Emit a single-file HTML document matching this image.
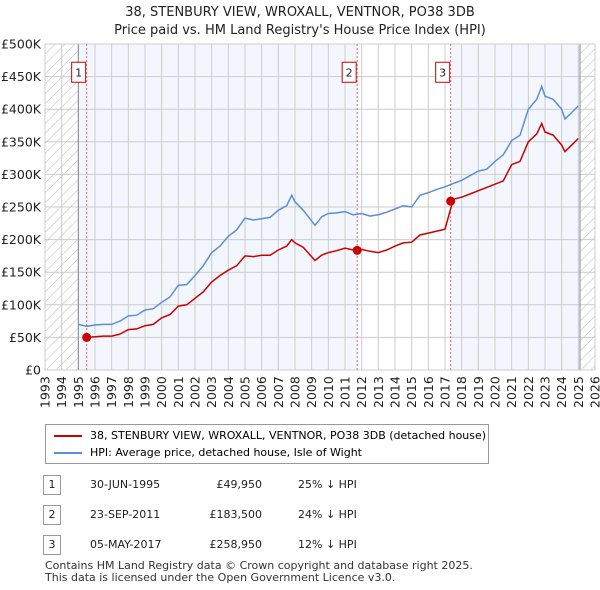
<!DOCTYPE html>
<html><head><meta charset="utf-8"><style>
body{margin:0;background:#fff;font-family:"DejaVu Sans","Liberation Sans",sans-serif;}
#wrap{position:relative;width:600px;height:590px;}
.t{position:absolute;font-size:12px;color:#222;}
svg text{font-family:"DejaVu Sans","Liberation Sans",sans-serif;}
</style></head><body>
<div id="wrap">
<svg id="chart" width="600" height="420" style="position:absolute;left:0;top:0"></svg>
<div style="position:absolute;left:45px;top:424px;width:442px;height:38px;border:1px solid #999;">
 <div style="position:absolute;left:8px;top:4px;font-size:11px;"><span style="display:inline-block;width:28px;height:2px;background:#cc0000;vertical-align:middle;margin-right:8px"></span>38, STENBURY VIEW, WROXALL, VENTNOR, PO38 3DB (detached house)</div>
 <div style="position:absolute;left:8px;top:21px;font-size:11px;"><span style="display:inline-block;width:28px;height:2px;background:#5b8fd4;vertical-align:middle;margin-right:8px"></span>HPI: Average price, detached house, Isle of Wight</div>
</div>
<div id="rows"></div>
<div class="t" style="left:45px;top:560px;font-size:11px;line-height:12px;color:#333">Contains HM Land Registry data © Crown copyright and database right 2025.<br>This data is licensed under the Open Government Licence v3.0.</div>
</div>
<script>
const years=[1995.0,1995.5,1996,1996.5,1997,1997.5,1998,1998.5,1999,1999.5,2000,2000.5,2001,2001.5,2002,2002.5,2003,2003.5,2004,2004.5,2005,2005.5,2006,2006.5,2007,2007.5,2007.8,2008,2008.5,2009.2,2009.6,2010,2010.5,2011,2011.5,2012,2012.5,2013,2013.5,2014,2014.5,2015,2015.5,2016,2016.5,2017,2017.5,2018,2018.5,2019,2019.5,2020,2020.5,2021,2021.5,2022,2022.5,2022.8,2023,2023.5,2024,2024.2,2024.6,2025.0];
const hpi=[70,67,69,70,70,75,83,84,92,94,104,112,130,131,145,160,180,190,205,215,233,230,232,234,245,252,268,258,245,222,235,240,241,243,238,240,236,238,242,247,252,250,268,272,277,281,286,291,298,305,308,320,330,352,360,400,415,435,420,415,400,385,395,405];
const price=[null,49.95,51,52,52,55,62,63,68,70,80,85,98,100,110,120,135,145,153,160,175,174,176,176,184,190,200,195,188,168,176,180,183,187,184,185,182,180,184,190,195,196,207,210,213,216,262,265,270,275,280,285,290,315,320,350,362,378,365,360,345,335,345,355];
const sales=[{n:"1",y:1995.5,v:49.95},{n:"2",y:2011.73,v:183.5},{n:"3",y:2017.34,v:258.95}];
const yTicks=[0,50,100,150,200,250,300,350,400,450,500];
const x0=45,x1=595,yT=44,yB=370;
const X=y=>x0+(y-1993)/(2026-1993)*(x1-x0);
const Y=v=>yB-v/500*(yB-yT);
const svg=document.getElementById('chart');
let h='<defs><pattern id="hatch" width="7" height="7" patternUnits="userSpaceOnUse" patternTransform="rotate(45)"><line x1="0" y1="0" x2="0" y2="7" stroke="#bbb" stroke-width="1"/></pattern></defs>';
h+=`<rect x="${x0}" y="${yT}" width="${x1-x0}" height="${yB-yT}" fill="#fff"/>`;
h+=`<rect x="${X(1995)}" y="${yT}" width="${X(2011.73)-X(1995)}" height="${yB-yT}" fill="#eef3fc" opacity="0.7"/>`;
h+=`<rect x="${X(2017.34)}" y="${yT}" width="${X(2025.1)-X(2017.34)}" height="${yB-yT}" fill="#eef3fc" opacity="0.7"/>`;
h+=`<rect x="${x0}" y="${yT}" width="${X(1995)-x0}" height="${yB-yT}" fill="url(#hatch)"/>`;
h+=`<rect x="${X(2025.1)}" y="${yT}" width="${x1-X(2025.1)}" height="${yB-yT}" fill="url(#hatch)"/>`;
for(let yr=1993;yr<=2026;yr++){h+=`<line x1="${X(yr)}" x2="${X(yr)}" y1="${yT}" y2="${yB}" stroke="#ccc"/>`;
 h+=`<text transform="translate(${X(yr)+4.5},${yB+38}) rotate(-90)" font-size="12.5" fill="#222">${yr}</text>`;}
yTicks.forEach(v=>{h+=`<line x1="${x0}" x2="${x1}" y1="${Y(v)}" y2="${Y(v)}" stroke="#ccc"/>`;
 h+=`<text x="${x0-4}" y="${Y(v)+4.5}" font-size="12.5" text-anchor="end" fill="#222">${v==0?'£0':'£'+v+'K'}</text>`;});
h+=`<line x1="${X(1995)}" x2="${X(1995)}" y1="${yT}" y2="${yB}" stroke="#888"/><line x1="${X(2025.1)}" x2="${X(2025.1)}" y1="${yT}" y2="${yB}" stroke="#888"/>`;
h+=`<rect x="${x0}" y="${yT}" width="${x1-x0}" height="${yB-yT}" fill="none" stroke="#ccc"/>`;
sales.forEach(s=>{h+=`<line x1="${X(s.y)}" x2="${X(s.y)}" y1="${yT}" y2="${yB}" stroke="#e66" stroke-dasharray="2,2"/>`;
 h+=`<rect x="${X(s.y)-15}" y="${Y(472)}" width="14" height="20" fill="#fff" stroke="#c00"/><text x="${X(s.y)-8}" y="${Y(472)+14}" font-size="11" text-anchor="middle" fill="#222">${s.n}</text>`;});
const path=(arr)=>{let d='';arr.forEach((v,i)=>{if(v==null)return;d+=(d?'L':'M')+X(years[i]).toFixed(1)+','+Y(v).toFixed(1);});return d;};
h+=`<path d="${path(hpi)}" fill="none" stroke="#5b8fd4" stroke-width="1.5"/>`;
h+=`<path d="${path(price)}" fill="none" stroke="#cc0000" stroke-width="1.5"/>`;
sales.forEach(s=>{h+=`<circle cx="${X(s.y)}" cy="${Y(s.v)}" r="4.5" fill="#cc0000"/>`;});
h+=`<text x="300" y="16" font-size="13" text-anchor="middle" fill="#222">38, STENBURY VIEW, WROXALL, VENTNOR, PO38 3DB</text>`;
h+=`<text x="300" y="34" font-size="13" text-anchor="middle" fill="#222">Price paid vs. HM Land Registry's House Price Index (HPI)</text>`;
svg.innerHTML=h;
const rows=[["1","30-JUN-1995","£49,950","25% ↓ HPI"],["2","23-SEP-2011","£183,500","24% ↓ HPI"],["3","05-MAY-2017","£258,950","12% ↓ HPI"]];
let r='';rows.forEach((row,i)=>{const top=475+i*30;
r+=`<div>`+
`<div class="t" style="left:43px;top:${top}px;width:16px;height:18px;border:1px solid #999;text-align:center;line-height:18px;font-size:11px">${row[0]}</div>`+
`<div class="t" style="left:90px;top:${top+3}px;font-size:11px">${row[1]}</div>`+
`<div class="t" style="left:190px;top:${top+3}px;width:72px;text-align:right;font-size:11px">${row[2]}</div>`+
`<div class="t" style="left:298px;top:${top+3}px;font-size:11px">${row[3]}</div></div>`;});
document.getElementById('rows').innerHTML=r;
</script>
</body></html>
